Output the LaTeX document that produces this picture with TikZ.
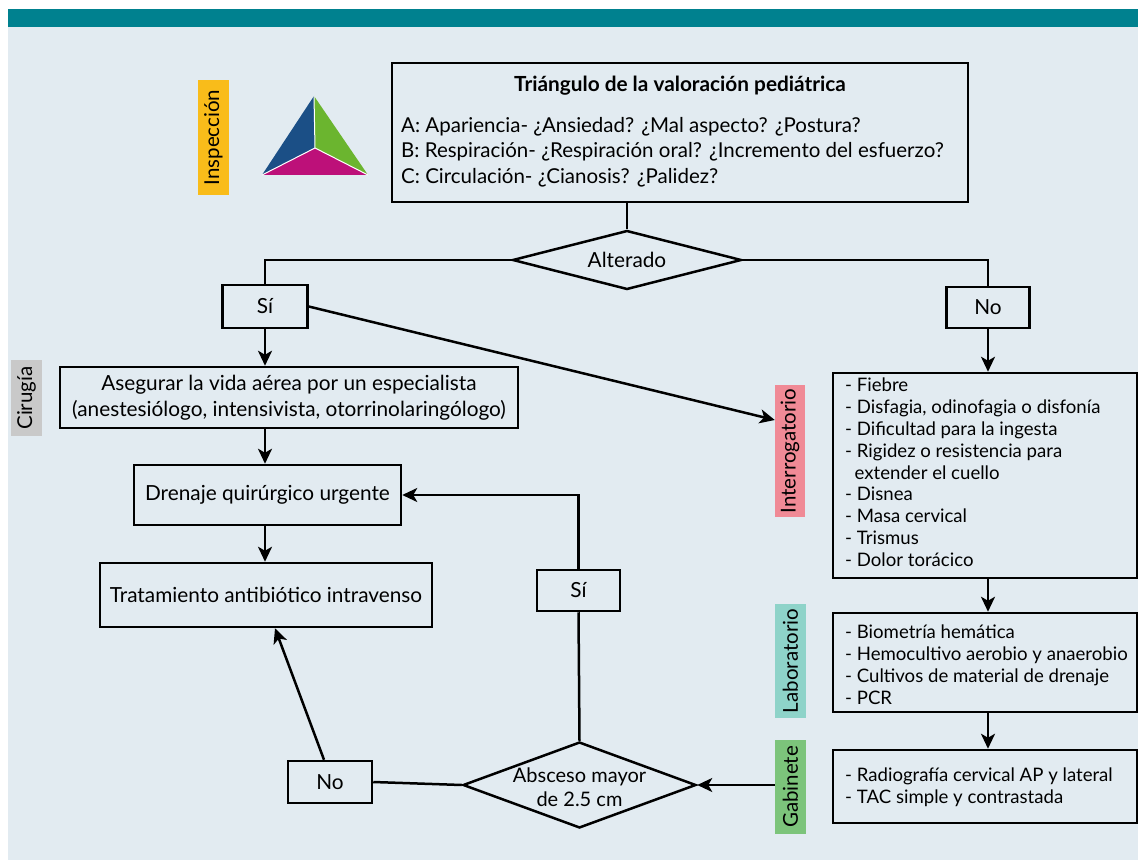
\documentclass[tikz,border=0pt]{standalone}
\usepackage{fontspec}
\setmainfont{Lato}
\usetikzlibrary{arrows.meta,shapes.geometric,calc}
\definecolor{bandc}{HTML}{00818F}
\definecolor{panel}{HTML}{E2EBF1}
\definecolor{inspc}{HTML}{F9BC1A}
\definecolor{circ}{HTML}{C9C9C9}
\definecolor{intc}{HTML}{F08A96}
\definecolor{labc}{HTML}{8ED3C9}
\definecolor{gabc}{HTML}{7CC47B}
\definecolor{tblue}{HTML}{1B4F86}
\definecolor{tgreen}{HTML}{6BB52F}
\definecolor{tmag}{HTML}{BD1079}
\begin{document}
\begin{tikzpicture}[x=1pt,y=-1pt,
  txt/.style={font=\fontsize{20.8}{26}\selectfont, inner sep=0},
  lst/.style={font=\fontsize{18.6}{21.8}\selectfont, inner sep=0},
  box/.style={draw=black, line width=2.5pt, fill=panel, inner sep=0},
  dia/.style={draw=black, line width=2.5pt, fill=panel, diamond, inner sep=0},
  tag/.style={inner sep=0, font=\fontsize{20.5}{24}\selectfont},
  conn/.style={line width=2.5pt, draw=black},
  arr/.style={conn, -{Stealth[length=15pt,width=14pt,inset=4pt]}}
]
\useasboundingbox (0,0) rectangle (1138,861);
\fill[white] (0,0) rectangle (1138,861);
\fill[panel] (8,27) rectangle (1138,860);
\fill[bandc] (8,9) rectangle (1138,27);

% triangle
\coordinate (ta) at (314,96);
\coordinate (tl) at (262,175);
\coordinate (tr) at (368,175);
\coordinate (tc) at (315,148);
\fill[tblue] (ta) -- (tc) -- (tl) -- cycle;
\fill[tgreen] (ta) -- (tr) -- (tc) -- cycle;
\fill[tmag] (tl) -- (tc) -- (tr) -- cycle;
\draw[white, line width=1pt] (ta) -- (tc) (tl) -- (tc) -- (tr);

% side tags
\node[tag, fill=inspc, minimum width=31, minimum height=115] (insp) at (213.5,137.5) {\rotatebox{90}{Inspección}};
\node[tag, fill=circ, minimum width=31, minimum height=76] (cir) at (26.5,398) {\rotatebox{90}{Cirugía}};
\node[tag, fill=intc, minimum width=30, minimum height=132] (interr) at (790,451) {\rotatebox{90}{Interrogatorio}};
\node[tag, fill=labc, minimum width=31, minimum height=114] (labl) at (790.5,661) {\rotatebox{90}{Laboratorio}};
\node[tag, fill=gabc, minimum width=31, minimum height=94] (gabl) at (790.5,787) {\rotatebox{90}{Gabinete}};

% top box
\node[box, minimum width=576, minimum height=139] (tri) at (680,132.5) {};
\node[txt, font=\fontsize{20.8}{26}\selectfont\bfseries] (tritit) at (680,86) {Triángulo de la valoración pediátrica};
\node[txt, anchor=west, align=left, font=\fontsize{20.5}{25.5}\selectfont] (tritxt) at (401,152) {A: Apariencia- ¿Ansiedad? ¿Mal aspecto? ¿Postura?\\B: Respiración- ¿Respiración oral? ¿Incremento del esfuerzo?\\C: Circulación- ¿Cianosis? ¿Palidez?};

% diamond Alterado
\node[dia, minimum width=229, minimum height=59] (alt) at (627,260) {};
\node[txt] (altt) at (alt) {Alterado};

% Si / No
\node[box, minimum width=85, minimum height=43, txt] (si1) at (265,306.5) {Sí};
\node[box, minimum width=83, minimum height=41, txt] (no1) at (988,307.5) {No};

% left column
\node[box, minimum width=458, minimum height=61, txt, align=center] (aseg) at (289,397.5) {Asegurar la vida aérea por un especialista\\(anestesiólogo, intensivista, otorrinolaringólogo)};
\node[box, minimum width=267, minimum height=60, txt] (dren) at (267.5,495) {Drenaje quirúrgico urgente};
\node[box, minimum width=332, minimum height=64, txt] (trat) at (266,595) {Tratamiento antibiótico intravenso};

% right column
\node[box, minimum width=304, minimum height=205] (sint) at (985,475.5) {};
\node[lst, anchor=north west, align=left] (sintt) at (845,378) {- Fiebre\\- Disfagia, odinofagia o disfonía\\- Dificultad para la ingesta\\- Rigidez o resistencia para\\\ \ extender el cuello\\- Disnea\\- Masa cervical\\- Trismus\\- Dolor torácico};
\node[box, minimum width=304, minimum height=99] (lab) at (985,662.5) {};
\node[lst, anchor=north west, align=left] (labt) at (845,625) {- Biometría hemática\\- Hemocultivo aerobio y anaerobio\\- Cultivos de material de drenaje\\- PCR};
\node[box, minimum width=304, minimum height=73] (gab) at (985,786.5) {};
\node[lst, anchor=north west, align=left] (gabt) at (845,768) {- Radiografía cervical AP y lateral\\- TAC simple y contrastada};

% bottom
\node[dia, minimum width=233, minimum height=86] (absc) at (579.5,785) {};
\node[txt, align=center, font=\fontsize{20}{23.5}\selectfont] (absct) at ([yshift=-2pt]absc.center) {Absceso mayor\\de 2.5 cm};
\node[box, minimum width=83, minimum height=41, txt] (si2) at (578.5,590.5) {Sí};
\node[box, minimum width=84, minimum height=42, txt] (no2) at (330,782) {No};

% connectors
\draw[conn] (tri.south -| alt.north) -- (alt.north);
\draw[conn] (alt.west) -| (si1.north);
\draw[conn] (alt.east) -| (no1.north);
\draw[arr] (no1.south) -- (no1.south |- sint.north);
\draw[arr] (si1.south) -- (si1.south |- aseg.north);
\draw[arr] (si1.east) -- ([yshift=31pt]interr.west);
\draw[arr] (si1.south |- aseg.south) -- (si1.south |- dren.north);
\draw[arr] (si1.south |- dren.south) -- (si1.south |- trat.north);
\draw[arr] (no1.south |- sint.south) -- (no1.south |- lab.north);
\draw[arr] (no1.south |- lab.south) -- (no1.south |- gab.north);
\draw[arr] (gabl.west |- absc.east) -- (absc.east);
\draw[conn] (absc.north) -- (si2.south);
\draw[arr] (si2.north) |- (dren.east);
\draw[conn] (absc.west) -- (no2.east);
\draw[arr] ([xshift=-6pt]no2.north) -- ([xshift=9pt]trat.south);
\end{tikzpicture}
\end{document}
